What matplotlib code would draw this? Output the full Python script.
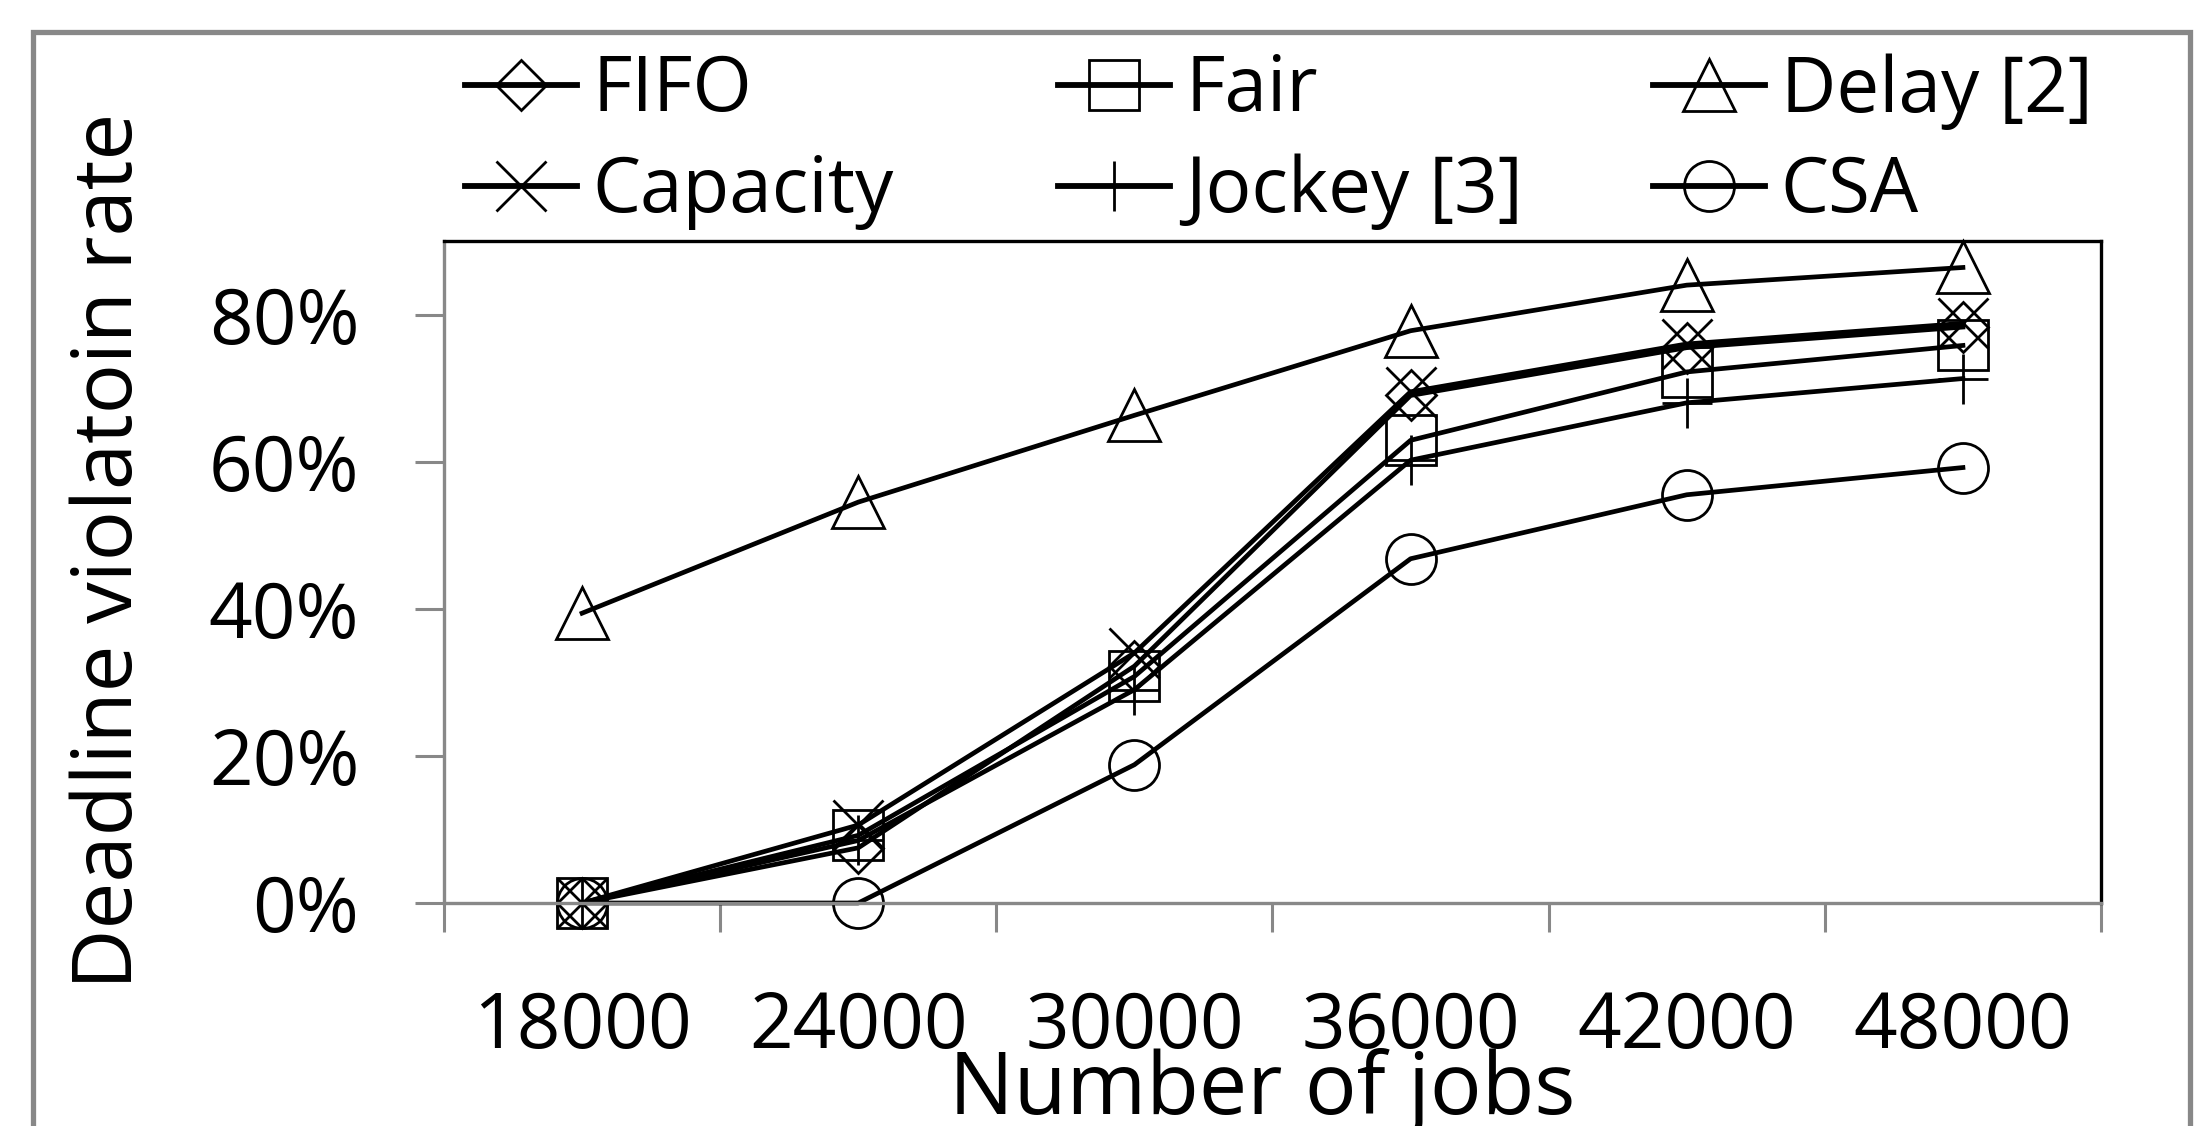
import matplotlib
matplotlib.use("Agg")
import matplotlib.pyplot as plt
from matplotlib.patches import Rectangle
from matplotlib.ticker import FixedLocator, FuncFormatter

plt.rcParams['font.family'] = ['Open Sans', 'DejaVu Sans']

jobs = ["18000", "24000", "30000", "36000", "42000", "48000"]
fifo = [0.0, 7.5, 32.2, 69.0, 75.5, 78.3]
fair = [0.0, 9.2, 30.8, 62.9, 72.2, 75.8]
delay = [39.4, 54.5, 66.3, 77.8, 84.0, 86.4]
capacity = [0.0, 10.6, 34.0, 69.5, 76.0, 78.8]
jockey = [0.0, 8.5, 29.0, 60.2, 68.0, 71.3]
csa = [0.0, 0.0, 18.8, 46.8, 55.5, 59.2]

series = [
    ("FIFO", fifo, "D", 25),
    ("Fair", fair, "s", 36),
    ("Delay [2]", delay, "^", 37),
    ("Capacity", capacity, "x", 36),
    ("Jockey [3]", jockey, "+", 36),
    ("CSA", csa, "o", 36),
]

W, H = 2201, 1126
fig = plt.figure(figsize=(W / 100, H / 100), dpi=100)

# outer gray frame
fig.patches.append(Rectangle((33 / W, -0.05), (2190 - 33) / W, (H - 32.5) / H + 0.05,
                             transform=fig.transFigure, fill=False,
                             edgecolor="#888888", linewidth=3.8, zorder=0))

ax = fig.add_axes([444 / W, (H - 903) / H, (2101 - 444) / W, (903 - 241) / H])
xs = list(range(len(jobs)))
handles = []
for name, vals, mk, ms in series:
    ln, = ax.plot(xs, vals, color="black", linewidth=3.4, marker=mk, markersize=ms,
                  markerfacecolor="none", markeredgecolor="black", markeredgewidth=2.0,
                  clip_on=False, label=name)
    handles.append(ln)

ax.set_xlim(-0.5, len(jobs) - 0.5)
ax.set_ylim(0, 90)
ax.set_yticks([0, 20, 40, 60, 80])
ax.yaxis.set_major_formatter(FuncFormatter(lambda v, p: f"{int(v)}%"))
ax.set_xticks(xs)
ax.set_xticklabels(jobs)
ax.xaxis.set_minor_locator(FixedLocator([i - 0.5 for i in range(len(jobs) + 1)]))

gray = "#888888"
ax.tick_params(axis="x", which="major", length=0, pad=62, labelsize=55)
ax.tick_params(axis="x", which="minor", length=21, width=2.2, color=gray, direction="out")
ax.tick_params(axis="y", which="major", length=21, width=2.2, color=gray, direction="out",
               pad=40, labelsize=55)
for s in ["left", "bottom"]:
    ax.spines[s].set_color(gray)
    ax.spines[s].set_linewidth(2.4)
for s in ["top", "right"]:
    ax.spines[s].set_color("black")
    ax.spines[s].set_linewidth(2.4)

fig.text(1262 / W, 12 / H, "Number of jobs", ha="center", va="baseline", fontsize=62)
fig.text(111 / W, (H - 551) / H, "Deadline violatoin rate", rotation=90, ha="center",
         va="center", fontsize=60)

# legend: three columns
col_x = [465, 1058, 1653]
for c in range(3):
    hs = [handles[c], handles[c + 3]]
    leg = fig.legend(handles=hs, labels=[h.get_label() for h in hs],
                     loc="upper left", bbox_to_anchor=(col_x[c] / W, 1 - 53 / H),
                     frameon=False, fontsize=55, handlelength=1.47, handletextpad=0.2,
                     labelspacing=0.32, borderpad=0, borderaxespad=0)
    for l in leg.get_lines():
        l.set_linewidth(4.2)

fig.savefig("out.png", dpi=100)
